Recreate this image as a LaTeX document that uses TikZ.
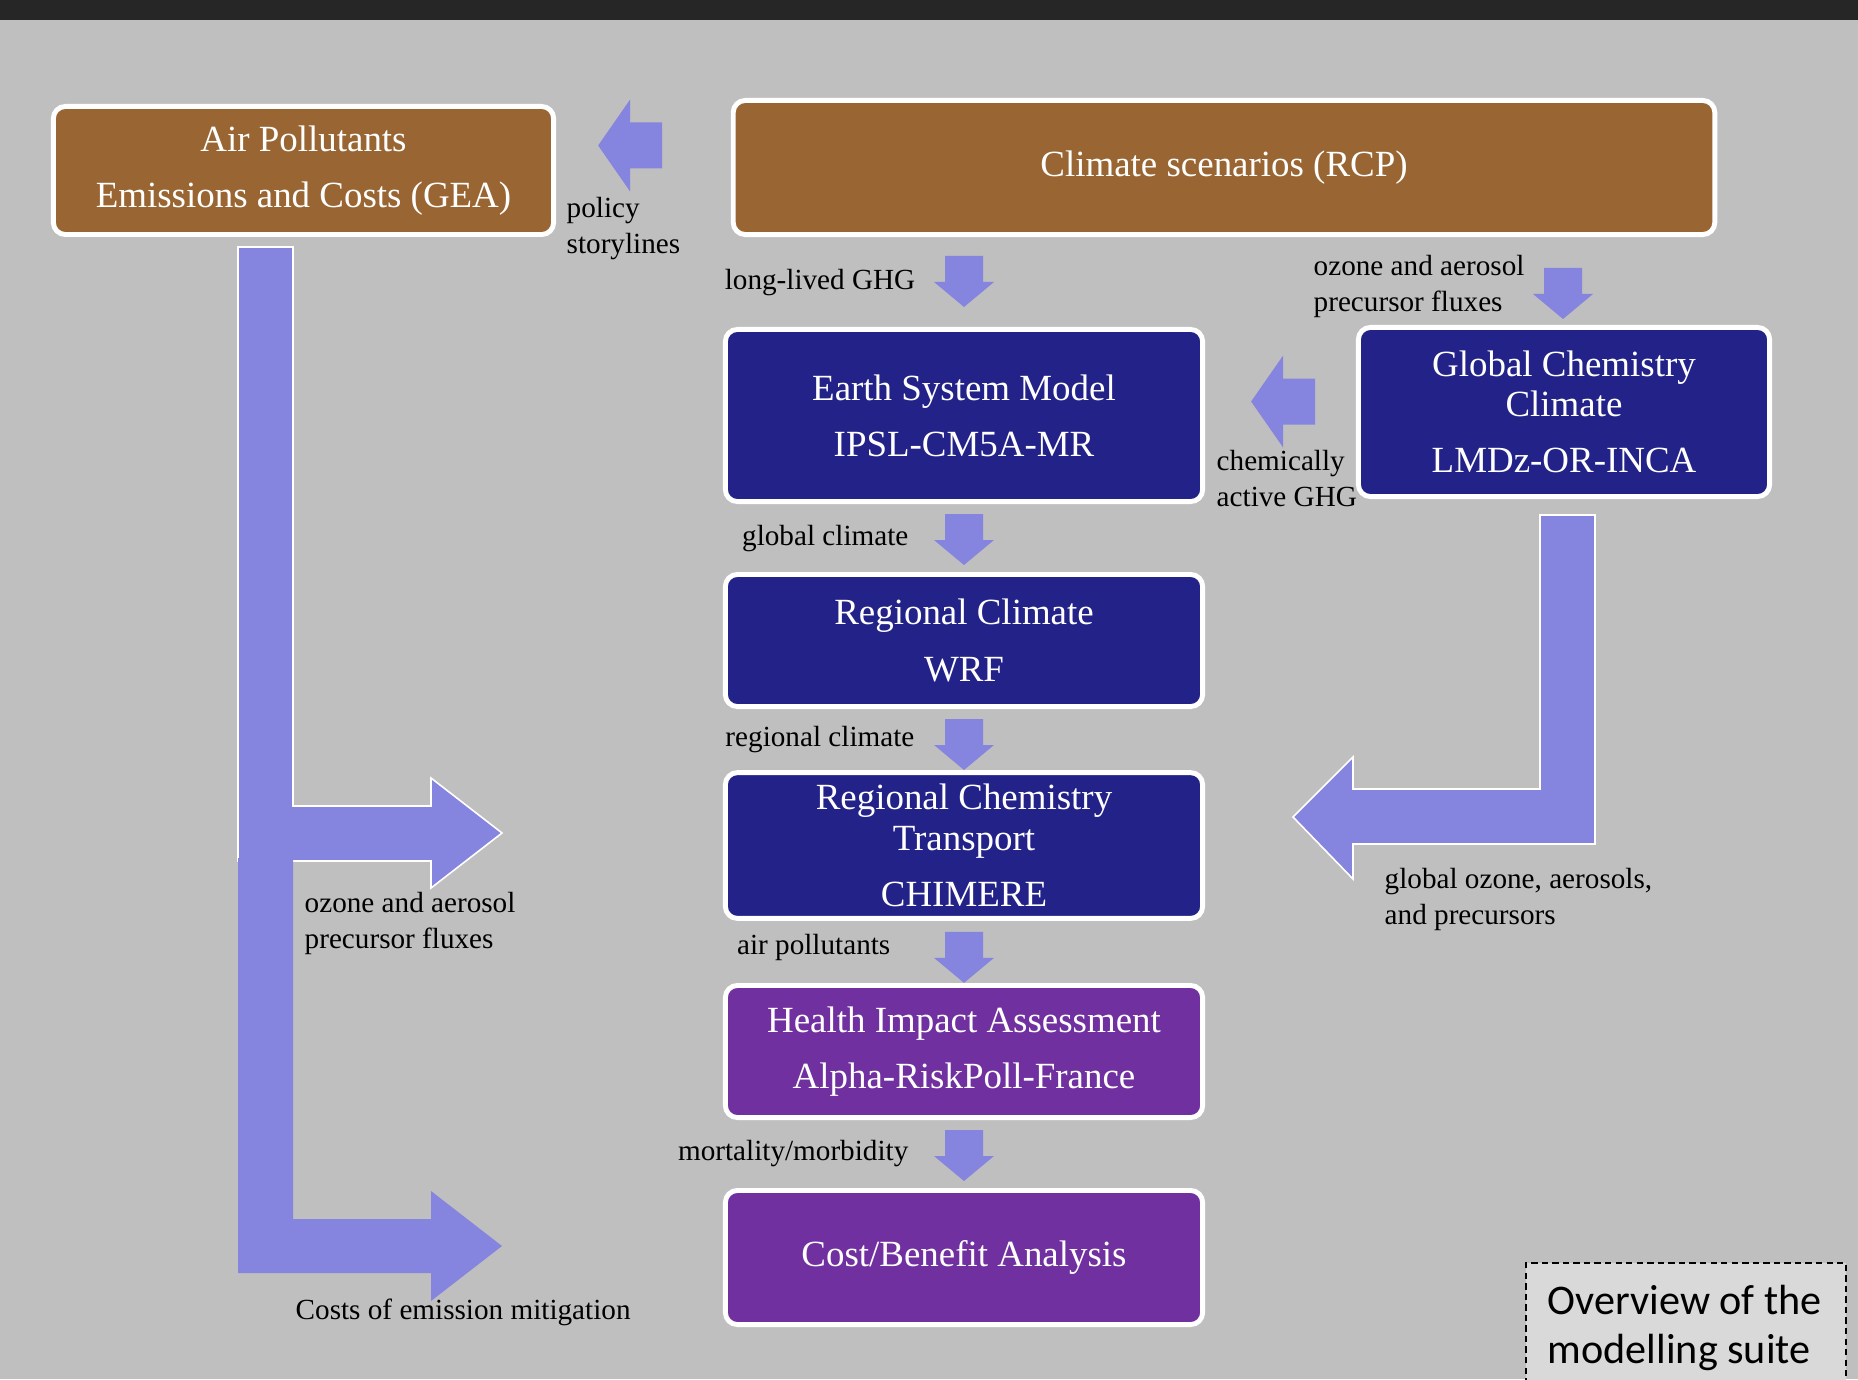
\documentclass[tikz,border=0pt]{standalone}
\usepackage{fontspec}
\setmainfont{Liberation Serif}
\newfontfamily\calibri{Carlito}
\usetikzlibrary{calc}
\definecolor{bggray}{RGB}{191,191,191}
\definecolor{topbar}{RGB}{38,38,38}
\definecolor{scenbrown}{RGB}{153,102,51}
\definecolor{modelblue}{RGB}{34,34,136}
\definecolor{impactpurple}{RGB}{112,48,160}
\definecolor{fluxblue}{RGB}{133,133,224}
\definecolor{notegray}{RGB}{217,217,217}

\begin{document}
\begin{tikzpicture}[x=0.01cm,y=-0.01cm,
    box/.style={draw=white, line width=1.4pt, rounded corners=0.12cm, text=white, align=center,
      minimum width=4.77cm, minimum height=1.32cm, font=\fontsize{10.5}{11.4}\selectfont},
    brownbox/.style={box, fill=scenbrown},
    modelbox/.style={box, fill=modelblue},
    impactbox/.style={box, fill=impactpurple},
    lbl/.style={inner sep=0pt, align=left, font=\fontsize{8.3}{10}\selectfont},
    flux/.style={fill=fluxblue},
    fluxline/.style={fill=fluxblue, draw=white, line width=0.45pt},
    dnarr/.pic={\fill[flux] (-19,0) -- (19,0) -- (19,26) -- (30,26) -- (0,51) -- (-30,26) -- (-19,26) -- cycle;},
    lfarr/.pic={\fill[flux] (0,0) -- (32,-46) -- (32,-23) -- (64,-23) -- (64,23) -- (32,23) -- (32,46) -- cycle;}]
  \useasboundingbox (0,0) rectangle (1858,1379);
  \fill[bggray] (0,0) rectangle (1858,1379);
  \fill[topbar] (0,0) rectangle (1858,20);

  % scenarios
  \node[brownbox, minimum width=5cm, minimum height=1.28cm] (gea) at (303.5,170.5) {Air Pollutants\\[4.6pt]Emissions and Costs (GEA)};
  \node[brownbox, minimum width=9.81cm, minimum height=1.34cm] (rcp) at (1224,167.5) {Climate scenarios (RCP)};

  % models
  \node[modelbox, minimum height=1.72cm] (esm) at (964,415.5) {Earth System Model\\[4.6pt]IPSL-CM5A-MR};
  \node[modelbox, minimum width=4.11cm, minimum height=1.69cm] (gcc) at (1564,412) {Global Chemistry\\Climate\\[4.6pt]LMDz-OR-INCA};
  \node[modelbox] (wrf) at (964,640.5) {Regional Climate\\[4.6pt]WRF};
  \node[modelbox] (chimere) at (964,845.5) {Regional Chemistry\\Transport\\[4.6pt]CHIMERE};
  \node[impactbox] (hia) at (964,1051.5) {Health Impact Assessment\\[4.6pt]Alpha-RiskPoll-France};
  \node[impactbox, minimum height=1.34cm] (cba) at (964,1257.5) {Cost/Benefit Analysis};

  % flux arrows
  \pic at ($(gea.east)+(42,-25)$) {lfarr};
  \pic at ($(esm.east)+(46,-14)$) {lfarr};
  \pic at ($(esm.north)+(0,-71)$) {dnarr};
  \pic at ($(gcc.north)+(-1,-57)$) {dnarr};
  \pic at ($(esm.south)+(0,10)$) {dnarr};
  \pic at ($(wrf.south)+(0,10)$) {dnarr};
  \pic at ($(chimere.south)+(0,11)$) {dnarr};
  \pic at ($(hia.south)+(0,10)$) {dnarr};
  \draw[fluxline] (1540,515) -- (1595,515) -- (1595,844) -- (1353,844) -- (1353,879) -- (1293,817)
    -- (1353,757) -- (1353,789) -- (1540,789) -- cycle;
  \draw[fluxline] (238,247) -- (293,247) -- (293,806) -- (431,806) -- (431,778) -- (502,833)
    -- (431,888) -- (431,861) -- (238,861) -- cycle;
  \fill[flux] (238,858) -- (293,858) -- (293,1219) -- (431,1219) -- (431,1191) -- (502,1246)
    -- (431,1301) -- (431,1273) -- (238,1273) -- cycle;

  % labels
  \node[lbl, anchor=north west] (policy) at (566,197) {policy\\storylines};
  \node[lbl, anchor=north east] (ghg) at (916,269) {long-lived GHG};
  \node[lbl, anchor=north west] (chemghg) at (1216,450) {chemically\\active GHG};
  \node[lbl, anchor=north west] (precur) at (1313,255) {ozone and aerosol\\precursor fluxes};
  \node[lbl, anchor=north east] (globclim) at (909,525) {global climate};
  \node[lbl, anchor=north east] (regclim) at (915,726) {regional climate};
  \node[lbl, anchor=north west] (globoz) at (1384,868) {global ozone, aerosols,\\and precursors};
  \node[lbl, anchor=north west] (emisflux) at (304,892) {ozone and aerosol\\precursor fluxes};
  \node[lbl, anchor=north east] (airpol) at (891,934) {air pollutants};
  \node[lbl, anchor=north east] (mortal) at (909,1140) {mortality/morbidity};
  \node[lbl, anchor=north west] (mitig) at (295,1298) {Costs of emission mitigation};

  % note
  \draw[fill=notegray, line width=0.45pt, dash pattern=on 1.8pt off 1.2pt]
    (1526,1395) -- (1526,1263) -- (1846,1263) -- (1846,1395);
  \node[inner sep=0pt, anchor=north west, align=left, font=\calibri\fontsize{12}{14}\selectfont] (overview)
    at (1547,1284) {Overview of the\\modelling suite};
\end{tikzpicture}
\end{document}
